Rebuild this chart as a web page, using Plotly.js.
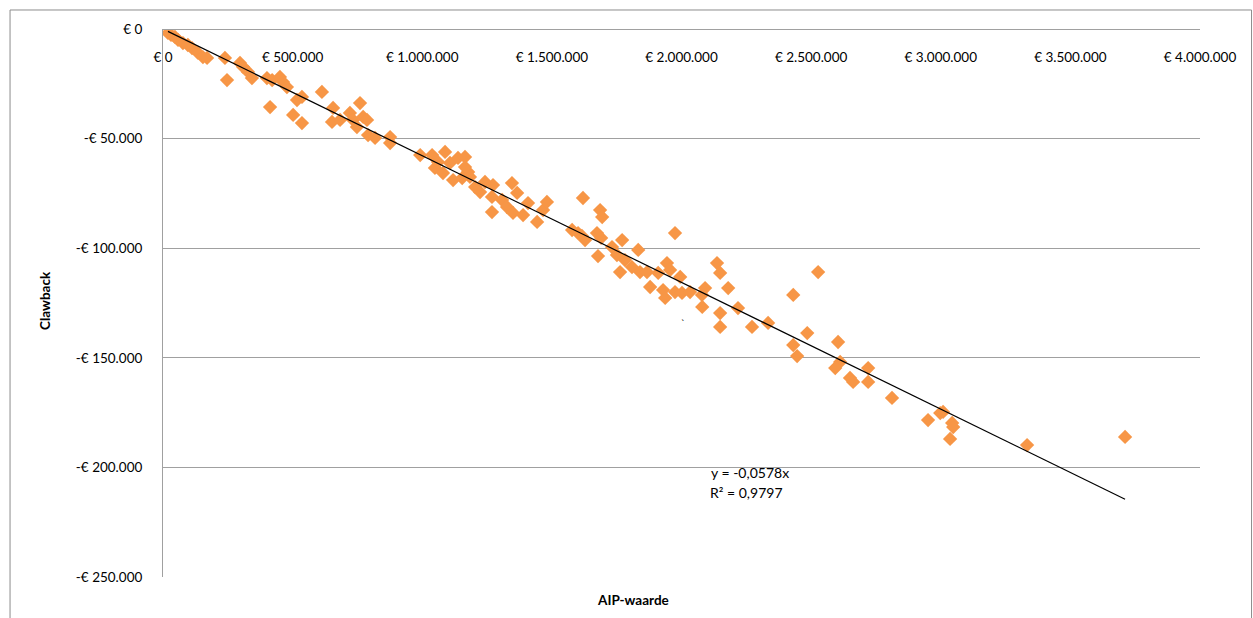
<!DOCTYPE html>
<html>
<head>
<meta charset="utf-8">
<script src="https://cdn.plot.ly/plotly-3.0.1.min.js"></script>
<style>
  html, body { margin: 0; padding: 0; background: #ffffff; }
  #chart { width: 1253px; height: 618px; }
</style>
</head>
<body>
<div id="chart"></div>
<script>
// AIP-waarde (x) in euro
const aipWaarde = [
  19000, 31000, 46000, 58000, 77000, 96000, 112000, 135000, 154000, 170000,
  239000, 247000, 297000, 309000, 328000, 343000, 401000, 421000, 451000, 463000,
  478000, 413000, 517000, 536000, 502000, 536000, 613000, 656000, 652000, 683000,
  721000, 733000, 760000, 772000, 787000, 748000, 791000, 818000, 876000, 876000,
  992000, 1038000, 1049000, 1088000, 1080000, 1107000, 1119000, 1138000, 1165000, 1165000,
  1177000, 1154000, 1204000, 1223000, 1242000, 1273000, 1269000, 1269000, 1308000, 1327000,
  1346000, 1350000, 1366000, 1389000, 1408000, 1443000, 1466000, 1481000, 1061000, 1184000,
  1578000, 1601000, 1616000, 1628000, 1620000, 1686000, 1694000, 1674000, 1690000, 1678000,
  1732000, 1771000, 1833000, 1975000, 1751000, 1763000, 1782000, 1809000, 1840000, 1867000,
  1879000, 1910000, 1929000, 1944000, 1937000, 1956000, 1975000, 1995000, 2002000, 2033000,
  2079000, 2091000, 2137000, 2149000, 2180000, 2080000, 2149000, 2149000, 2218000, 2272000,
  2334000, 2431000, 2485000, 2527000, 2431000, 2446000, 2604000, 2612000, 2593000, 2650000,
  2662000, 2720000, 2720000, 2812000, 2951000, 2998000, 3009000, 3044000, 3048000, 3036000,
  3333000, 3711000
];

// Clawback (y) in euro
const clawback = [
  -1800, -2700, -3600, -5000, -6400, -7300, -8700, -10900, -12800, -13200,
  -13200, -23300, -15500, -17300, -19600, -22400, -22400, -23300, -21900, -24200,
  -26500, -35600, -32400, -31000, -39200, -42900, -28700, -36000, -42400, -41500,
  -38300, -41500, -33800, -40100, -41500, -44700, -48400, -49700, -49300, -52000,
  -57500, -57500, -63400, -56100, -65700, -61100, -68900, -58800, -58400, -63000,
  -65200, -68000, -72100, -74400, -69800, -71200, -76600, -83500, -78000, -81200,
  -70300, -83900, -74800, -84900, -79400, -88000, -82600, -78900, -60700, -67500,
  -91700, -93100, -94400, -96300, -77100, -82600, -85800, -93100, -95300, -103600,
  -99500, -96300, -100800, -93100, -103100, -110900, -105400, -108600, -110900, -110900,
  -117700, -111300, -119100, -106800, -122700, -109900, -120000, -113100, -120400, -120000,
  -121300, -118200, -106800, -111300, -118200, -126800, -129600, -135900, -127300, -135900,
  -134100, -121300, -138700, -110900, -144200, -149200, -142800, -151900, -154700, -159200,
  -161000, -154700, -161000, -168300, -178400, -175200, -174700, -179700, -181600, -187000,
  -189800, -186100
];

// Trendline (linear through origin) coefficient and fit as shown on the chart
const slope = -0.0578;
const equationText = "y = -0,0578x";
const r2Text = "R² = 0,9797";

// Tick values and labels
const xTickVals = [0, 500000, 1000000, 1500000, 2000000, 2500000, 3000000, 3500000, 4000000];
const xTickText = ["€ 0", "€ 500.000", "€ 1.000.000", "€ 1.500.000", "€ 2.000.000", "€ 2.500.000", "€ 3.000.000", "€ 3.500.000", "€ 4.000.000"];
const yTickVals = [0, -50000, -100000, -150000, -200000, -250000];
const yTickText = ["€ 0", "-€ 50.000", "-€ 100.000", "-€ 150.000", "-€ 200.000", "-€ 250.000"];

const xMin = Math.min(...aipWaarde);
const xMax = Math.max(...aipWaarde);

const FONT = "Lato, 'Open Sans', 'Liberation Sans', sans-serif";

const traces = [
  {
    type: "scatter",
    mode: "markers",
    x: aipWaarde,
    y: clawback,
    marker: { symbol: "diamond", size: 11, color: "#F79646", line: { width: 0 } },
    hoverinfo: "x+y"
  },
  {
    type: "scatter",
    mode: "lines",
    x: [xMin, xMax],
    y: [slope * xMin, slope * xMax],
    line: { color: "#000000", width: 1.2 },
    hoverinfo: "skip"
  }
];

const layout = {
  width: 1253,
  height: 618,
  paper_bgcolor: "#ffffff",
  plot_bgcolor: "#ffffff",
  showlegend: false,
  margin: { l: 163, r: 53, t: 29, b: 41 },
  font: { family: FONT, size: 13.5, color: "#000000" },
  xaxis: {
    range: [0, 4000000],
    tickmode: "array",
    tickvals: xTickVals,
    ticktext: xTickText,
    anchor: "free",
    position: 1,
    side: "bottom",
    showgrid: false,
    zeroline: false,
    showline: true,
    linecolor: "#a0a0a0",
    linewidth: 1,
    ticks: "",
    ticklabelstandoff: 16,
    tickfont: { family: FONT, size: 13.5, color: "#000000" },
    fixedrange: true
  },
  yaxis: {
    range: [-250000, 0],
    tickmode: "array",
    tickvals: yTickVals,
    ticktext: yTickText,
    showgrid: true,
    gridcolor: "#a0a0a0",
    gridwidth: 1,
    zeroline: false,
    showline: true,
    linecolor: "#a0a0a0",
    linewidth: 1,
    ticks: "",
    ticklabelstandoff: 17,
    tickfont: { family: FONT, size: 13.5, color: "#000000" },
    fixedrange: true
  },
  shapes: [
    {
      type: "rect", xref: "paper", yref: "paper",
      x0: -0.1475, x1: 1.0497, y0: -0.09, y1: 1.0347,
      line: { color: "#8c8c8c", width: 1 },
      fillcolor: "rgba(0,0,0,0)",
      layer: "below"
    }
  ],
  annotations: [
    {
      xref: "paper", yref: "paper", x: 0.5660, y: 0.1916,
      text: equationText, showarrow: false,
      font: { family: FONT, size: 14, color: "#000000" },
      xanchor: "center", yanchor: "middle"
    },
    {
      xref: "paper", yref: "paper", x: 0.5630, y: 0.1535,
      text: r2Text, showarrow: false,
      font: { family: FONT, size: 14, color: "#000000" },
      xanchor: "center", yanchor: "middle"
    },
    {
      xref: "paper", yref: "paper", x: 0.5015, y: 0.4635,
      text: "`", showarrow: false,
      font: { family: FONT, size: 10, color: "#000000" },
      xanchor: "center", yanchor: "middle"
    },
    {
      xref: "paper", yref: "paper", x: -0.1138, y: 0.5055,
      text: "<b>Clawback</b>", showarrow: false, textangle: -90,
      font: { family: FONT, size: 13.5, color: "#000000" },
      xanchor: "center", yanchor: "middle"
    },
    {
      xref: "paper", yref: "paper", x: 0.4532, y: -0.042,
      text: "<b>AIP-waarde</b>", showarrow: false,
      font: { family: FONT, size: 13.5, color: "#000000" },
      xanchor: "center", yanchor: "middle"
    }
  ]
};

Plotly.newPlot("chart", traces, layout, { staticPlot: true, displayModeBar: false });
</script>
</body>
</html>
